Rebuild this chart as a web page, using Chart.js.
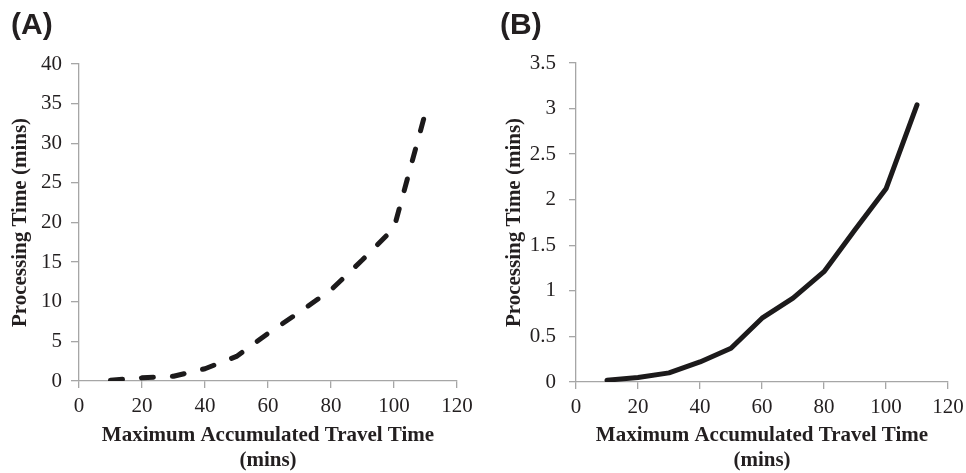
<!DOCTYPE html>
<html>
<head>
<meta charset="utf-8">
<script src="https://cdn.jsdelivr.net/npm/chart.js@4.4.0/dist/chart.umd.min.js"></script>
<style>
  html, body { margin: 0; padding: 0; background: #fff; }
  .panel { position: absolute; top: 0; width: 483px; height: 473px; }
  .tag { position: absolute; font: bold 30px "Liberation Sans", Arial, sans-serif; color: #231f20; }
</style>
</head>
<body>
<div class="panel" style="left:0"><canvas id="chartA"></canvas></div>
<div class="panel" style="left:483px"><canvas id="chartB"></canvas></div>
<div class="tag" style="left:11px; top:7px">(A)</div>
<div class="tag" style="left:500px; top:7px">(B)</div>
<script>
// data
var travelTimes = [10, 20, 30, 40, 50, 60, 70, 80, 90, 100, 110];
var processingA = [0.1, 0.4, 0.6, 1.55, 3.1, 6.0, 8.7, 11.5, 15.3, 19.3, 33.9];
var processingB = [0.02, 0.05, 0.1, 0.22, 0.37, 0.7, 0.92, 1.21, 1.67, 2.12, 3.04];

var serif = '"Liberation Serif", "Times New Roman", serif';
var axisGray = '#a6a6a6';
var inkColor = '#231f20';

function points(ys) {
    return travelTimes.map(function(x, i) { return { x: x, y: ys[i] }; });
}

function makeChart(id, ys, opts) {
    new Chart(document.getElementById(id), {
        type: 'line',
        data: {
            datasets: [{
                data: points(ys),
                borderColor: '#1c1a1b',
                borderWidth: 5,
                borderDash: opts.dash,
                borderCapStyle: 'round',
                borderJoinStyle: 'round',
                pointRadius: 0,
                tension: 0,
                fill: false
            }]
        },
        options: {
            responsive: true,
            maintainAspectRatio: false,
            animation: false,
            layout: { padding: { top: opts.top, right: opts.right, left: 0, bottom: 0 } },
            plugins: { legend: { display: false }, tooltip: { enabled: false } },
            scales: {
                x: {
                    type: 'linear',
                    min: 0,
                    max: 120,
                    ticks: { stepSize: 20, color: inkColor, font: { family: serif, size: 21 }, padding: 6, maxRotation: 0 },
                    grid: { drawOnChartArea: false, drawTicks: true, tickLength: 7, color: axisGray, lineWidth: 1.3 },
                    border: { color: axisGray, width: 1.3 },
                    title: {
                        display: true,
                        text: ['Maximum Accumulated Travel Time', '(mins)'],
                        color: inkColor,
                        font: { family: serif, size: 21, weight: 'bold', lineHeight: 1.2 },
                        padding: { top: 0, bottom: 0 }
                    },
                    afterFit: function(scale) {
                        scale.height = opts.xHeight;
                        // keep the plot edge where the layout padding puts it
                        scale.paddingLeft = 0;
                        scale.paddingRight = 0;
                    }
                },
                y: {
                    min: 0,
                    max: opts.yMax,
                    ticks: {
                        stepSize: opts.yStep,
                        color: inkColor,
                        font: { family: serif, size: 21 },
                        padding: opts.yPad,
                        callback: function(v) { return String(v); }
                    },
                    grid: { drawOnChartArea: false, drawTicks: true, tickLength: opts.tick, color: axisGray, lineWidth: 1.3 },
                    border: { color: axisGray, width: 1.3 },
                    title: {
                        display: true,
                        text: 'Processing Time (mins)',
                        color: inkColor,
                        font: { family: serif, size: 21, weight: 'bold' },
                        padding: { top: opts.titlePad, bottom: 0 }
                    },
                    afterFit: function(scale) { scale.width = opts.yWidth; }
                }
            }
        }
    });
}

makeChart('chartA', processingA, {
    dash: [12, 19], top: 64, right: 26, xHeight: 92, yWidth: 79,
    yMax: 40, yStep: 5, yPad: 9, tick: 8, titlePad: 8
});
makeChart('chartB', processingB, {
    dash: [], top: 63, right: 18, xHeight: 91, yWidth: 93,
    yMax: 3.5, yStep: 0.5, yPad: 13, tick: 7, titlePad: 19
});
</script>
</body>
</html>
